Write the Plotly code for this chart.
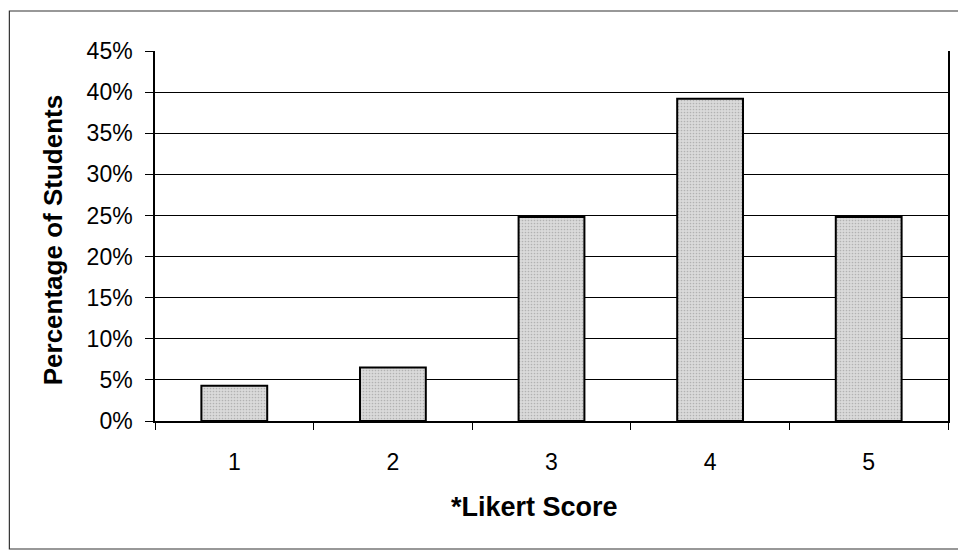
import plotly.graph_objects as go

# Likert score distribution
scores = ["1", "2", "3", "4", "5"]
share_pct = [4.3, 6.5, 24.8, 39.2, 24.8]
y_ticks_pct = [0, 5, 10, 15, 20, 25, 30, 35, 40, 45]

W, H = 958, 550
L, R, T, B = 155, 8, 51, 129
pw, ph = W - L - R, H - T - B

fig = go.Figure(
    go.Bar(
        x=scores,
        y=[v / 100 for v in share_pct],
        width=0.415,
        marker=dict(
            color="#d2d2d2",
            line=dict(color="black", width=2),
            pattern=dict(shape=".", fgcolor="#8a8a8a", bgcolor="#dadada", size=3, solidity=0.25),
        ),
        showlegend=False,
    )
)

font = "Liberation Sans, Arial, sans-serif"
tick_font = dict(family=font, size=23, color="black")


def px_to_paper_x(px):
    return (px - L) / pw


def px_to_paper_y(py):
    return (H - B - py) / ph


fig.update_layout(
    width=W,
    height=H,
    margin=dict(l=L, r=R, t=T, b=B),
    paper_bgcolor="white",
    plot_bgcolor="white",
    font=dict(family=font, size=23, color="black"),
    shapes=[
        dict(
            type="rect", xref="paper", yref="paper",
            x0=px_to_paper_x(9), x1=px_to_paper_x(W + 5),
            y0=px_to_paper_y(549), y1=px_to_paper_y(11),
            line=dict(color="#333333", width=1.2), fillcolor="rgba(0,0,0,0)", layer="below",
        )
    ],
    annotations=[
        dict(
            text="<b>*Likert Score</b>", xref="paper", yref="paper",
            x=px_to_paper_x(535), y=px_to_paper_y(507),
            xanchor="center", yanchor="middle", showarrow=False,
            font=dict(family=font, size=27, color="black"),
        ),
        dict(
            text="<b>Percentage of Students</b>", xref="paper", yref="paper",
            x=px_to_paper_x(53), y=px_to_paper_y(240),
            xanchor="center", yanchor="middle", showarrow=False, textangle=-90,
            font=dict(family=font, size=26, color="black"),
        ),
    ],
)

fig.update_xaxes(
    type="category",
    showline=True, linecolor="black", linewidth=1.5,
    ticks="outside", tickson="boundaries", ticklen=7, tickcolor="black", tickwidth=1.2,
    tickfont=tick_font,
    ticklabelstandoff=20,
    showgrid=False,
)

fig.update_yaxes(
    range=[0, 0.45],
    tickvals=[v / 100 for v in y_ticks_pct],
    ticktext=[f"{v}%" for v in y_ticks_pct],
    showline=True, mirror=True, linecolor="black", linewidth=1.5,
    ticks="outside", ticklen=8, tickcolor="black", tickwidth=1.2,
    tickfont=tick_font,
    ticklabelstandoff=8,
    showgrid=True, gridcolor="black", gridwidth=1,
    zeroline=False,
)

fig.write_html("out.html")
